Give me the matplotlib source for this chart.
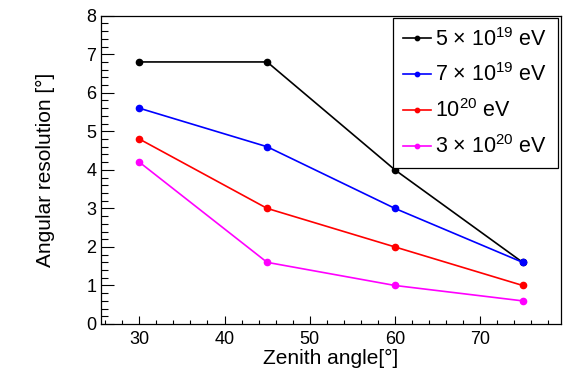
import matplotlib
matplotlib.use("Agg")
import matplotlib.pyplot as plt
from matplotlib.ticker import MultipleLocator

plt.rcParams['font.family'] = ['Liberation Sans', 'DejaVu Sans']
plt.rcParams['mathtext.fontset'] = 'custom'
plt.rcParams['mathtext.rm'] = 'Liberation Sans'
plt.rcParams['mathtext.it'] = 'Liberation Sans:italic'
plt.rcParams['mathtext.default'] = 'regular'

zenith = [30, 45, 60, 75]
res_5e19 = [6.8, 6.8, 4.0, 1.6]
res_7e19 = [5.6, 4.6, 3.0, 1.6]
res_1e20 = [4.8, 3.0, 2.0, 1.0]
res_3e20 = [4.2, 1.6, 1.0, 0.6]
labels = [r'5 × 10$^{19}$ eV', r'7 × 10$^{19}$ eV', r'10$^{20}$ eV', r'3 × 10$^{20}$ eV']
colors = ['black', '#0000ff', '#ff0000', '#ff00ff']

fig = plt.figure(figsize=(5.65, 3.82), dpi=100)
ax = fig.add_axes([101/565, 1-324/382, 460/565, 308.3/382])

for ys, lab, c in zip([res_5e19, res_7e19, res_1e20, res_3e20], labels, colors):
    ax.plot(zenith, ys, '-o', color=c, lw=1.2, ms=4.5, label=lab)

ax.set_xlim(25.5, 79.5)
ax.set_ylim(0, 8)
ax.xaxis.set_major_locator(MultipleLocator(10))
ax.xaxis.set_minor_locator(MultipleLocator(2))
ax.yaxis.set_major_locator(MultipleLocator(1))
ax.yaxis.set_minor_locator(MultipleLocator(0.2))
ax.tick_params(which='both', direction='in', top=False, right=False, labelsize=13, width=0.8)
ax.tick_params(axis='y', which='major', length=9.5)
ax.tick_params(axis='y', which='minor', length=5)
ax.tick_params(axis='x', which='major', length=6)
ax.tick_params(axis='x', which='minor', length=3)
ax.tick_params(axis='x', pad=5)
for s in ax.spines.values():
    s.set_linewidth(0.9)

ax.set_xlabel('Zenith angle[°]', fontsize=15, labelpad=1)
ax.set_ylabel('Angular resolution [°]', fontsize=15, labelpad=22)

leg = ax.legend(loc='upper left', bbox_to_anchor=(0.635, 0.522, 0.3585, 0.4705),
                mode='expand', borderaxespad=0, fontsize=15.5, fancybox=False,
                edgecolor='black', framealpha=1, handlelength=1.3, handletextpad=0.2,
                labelspacing=0.6, borderpad=0.45, markerscale=0.7)
leg.get_frame().set_linewidth(0.9)

fig.savefig('out.png', dpi=100)
